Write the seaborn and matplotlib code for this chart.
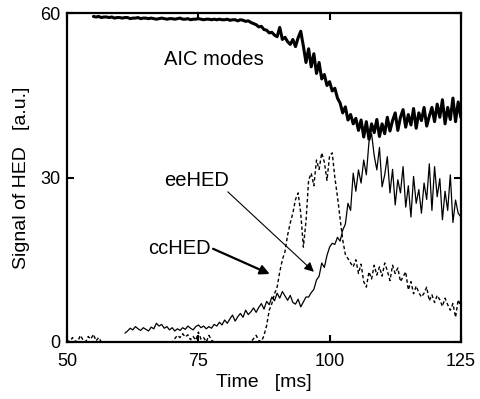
import numpy as np
import pandas as pd
import matplotlib
matplotlib.use("Agg")
import matplotlib.pyplot as plt
import seaborn as sns

# sampled every 0.5 ms
t_aic = np.arange(55.0, 125.01, 0.5)
aic = [
    59.4, 59.3, 59.4, 59.2, 59.3, 59.3, 59.2, 59.3, 59.1, 59.2,
    59.2, 59.1, 59.2, 59.2, 59.0, 59.1, 59.1, 59.2, 59.0, 59.1,
    59.1, 59.0, 59.1, 59.0, 58.9, 59.0, 59.1, 59.0, 58.9, 59.0,
    59.0, 58.9, 59.0, 59.1, 58.9, 58.9, 59.0, 58.8, 58.9, 58.9,
    59.0, 58.9, 58.8, 58.9, 58.9, 58.8, 58.9, 58.8, 58.9, 58.8,
    58.8, 58.9, 58.7, 58.8, 58.8, 58.6, 58.8, 58.7, 58.5, 58.6,
    58.3, 58.1, 57.9, 57.5, 57.6, 57.0, 56.9, 56.4, 56.5, 56.0,
    55.7, 57.4, 55.2, 55.6, 54.8, 54.3, 55.2, 53.9, 55.5, 56.7,
    54.0, 51.0, 53.5, 50.2, 52.6, 49.0, 51.0, 48.0, 48.8, 46.8,
    47.5, 45.8, 46.3, 44.5, 43.6, 41.8, 42.9, 40.5, 41.5, 39.8,
    40.8, 38.6, 40.5, 37.4, 40.2, 37.0, 39.8, 38.2, 40.6, 37.5,
    39.8, 38.0, 41.0, 38.5, 40.4, 41.8, 38.6, 41.0, 42.4, 39.2,
    41.5, 39.6, 42.6, 39.0, 41.8, 40.4, 42.8, 39.4, 41.2, 42.8,
    40.2, 43.4, 41.0, 44.2, 39.8, 42.8, 40.6, 44.5, 40.2, 43.8,
    41.0,
]

t_cc = np.arange(61.0, 125.01, 0.5)
cc_hed = [
    1.6, 2.0, 2.5, 2.2, 2.8, 2.4, 2.1, 2.6, 2.3, 2.0,
    2.7, 2.4, 3.4, 2.9, 3.2, 2.5, 2.8, 2.2, 2.6, 2.0,
    2.4, 2.1, 2.6, 2.3, 2.9, 2.5, 2.2, 2.8, 3.1, 2.6,
    2.9, 2.4, 2.8, 2.5, 3.2, 2.9, 3.6, 3.1, 4.0, 3.4,
    4.2, 4.9, 3.8, 4.6, 5.2, 4.5, 5.8, 5.0, 5.5, 6.2,
    5.4, 6.3, 7.0, 6.0, 7.4, 6.8, 8.2, 7.5, 8.9, 8.0,
    9.2, 8.4, 7.6, 8.5, 7.2, 6.9, 7.8, 6.4, 7.3, 8.2,
    8.2, 9.0, 9.6, 11.3, 12.0, 14.4, 13.6, 15.8, 17.3, 18.0,
    17.8, 19.1, 18.4, 20.4, 21.5, 25.3, 24.0, 30.8, 27.5, 31.4,
    29.0, 33.2, 30.5, 36.5, 38.0, 34.0, 31.4, 35.5, 28.3, 30.5,
    33.8, 27.2, 31.5, 25.0, 29.6, 27.2, 32.0, 24.6, 28.5, 22.8,
    30.2, 25.3, 27.8, 23.5, 29.0, 26.0, 32.5, 24.0, 32.0, 26.5,
    29.8, 22.3, 27.5, 24.0, 30.5, 21.8, 25.9, 23.5, 22.8,
]

t_ee = np.arange(50.0, 125.01, 0.5)
ee_hed = [
    0.3, 0.0, 0.8, 0.2, 0.0, 1.2, 0.4, 0.0, 1.0, 0.5,
    1.4, 0.2, 0.8, 0.0, 0.0, 0.0, 0.0, 0.0, 0.0, 0.0,
    0.0, 0.0, 0.0, 0.0, 0.0, 0.0, 0.0, 0.0, 0.0, 0.0,
    0.0, 0.0, 0.0, 0.0, 0.0, 0.0, 0.0, 0.0, 0.0, 0.0,
    0.0, 0.6, 1.2, 0.8, 1.5, 0.9, 1.3, 0.4, 1.0, 0.3,
    1.8, 0.5, 0.8, 0.0, 1.2, 0.3, 0.0, 0.0, 0.0, 0.0,
    0.0, 0.0, 0.0, 0.0, 0.0, 0.0, 0.0, 0.0, 0.0, 0.0,
    0.0, 0.6, 1.2, 0.3, 0.0, 1.2, 3.0, 5.8, 7.0, 8.8,
    10.0, 12.8, 15.0, 16.5, 19.5, 21.7, 23.5, 26.0, 27.2, 23.5,
    17.3, 22.0, 29.5, 30.8, 28.5, 33.2, 31.5, 34.5, 32.8, 29.5,
    34.0, 34.5, 30.0, 26.5, 22.5, 18.6, 16.0, 15.2, 14.4, 13.7,
    15.0, 12.5, 14.2, 11.0, 10.0, 12.8, 11.5, 14.0, 12.2, 13.7,
    12.0, 14.4, 13.0, 11.2, 14.0, 12.5, 13.5, 11.0, 11.9, 12.8,
    9.5, 11.0, 8.8, 10.2, 9.0, 8.2, 8.9, 10.0, 7.5, 8.6,
    7.2, 8.5, 7.7, 6.5, 8.0, 6.8, 5.8, 7.0, 4.5, 7.7,
    6.5,
]

x_ticks = [50, 75, 100, 125]
y_ticks = [0, 30, 60]

sns.set_style("ticks", {"text.color": "black", "axes.labelcolor": "black",
                        "xtick.color": "black", "ytick.color": "black",
                        "axes.edgecolor": "black"})
plt.rcParams["font.family"] = ["Liberation Sans", "DejaVu Sans"]

fig = plt.figure(figsize=(4.8, 3.99), dpi=100)
ax = fig.add_axes([0.14, 0.143, 0.82, 0.824])

sns.lineplot(x=t_aic, y=aic, color="black", linewidth=2.2, ax=ax)
sns.lineplot(x=t_cc, y=cc_hed, color="black", linewidth=0.9, ax=ax)
ee_line = sns.lineplot(x=t_ee, y=ee_hed, color="black", linewidth=1.0, ax=ax).lines[-1]
ee_line.set_dashes([2.5, 1.8])

ax.set_xlim(50, 125)
ax.set_ylim(0, 60)
ax.set_xticks(x_ticks)
ax.set_yticks(y_ticks)
ax.tick_params(direction="in", length=5, width=1.5, labelsize=13,
               top=True, right=True, color="black", labelcolor="black")
ax.tick_params(axis="x", pad=8)
ax.tick_params(axis="y", pad=5)
for s in ax.spines.values():
    s.set_linewidth(1.6)
    s.set_color("black")
    s.set_visible(True)

ax.set_xlabel("Time   [ms]", fontsize=14, labelpad=3, color="black")
ax.set_ylabel("Signal of HED   [a.u.]", fontsize=14, labelpad=7, color="black")

ax.text(78, 51.5, "AIC modes", fontsize=14.5, ha="center", va="center", color="black")
ax.text(74.6, 29.5, "eeHED", fontsize=14.5, ha="center", va="center", color="black")
ax.text(71.3, 17.1, "ccHED", fontsize=14.5, ha="center", va="center", color="black")
ax.annotate("", xy=(97.0, 12.8), xytext=(80.6, 27.4),
            arrowprops=dict(arrowstyle="-|>", color="black", lw=0.8,
                            shrinkA=0, shrinkB=0, mutation_scale=14))
ax.annotate("", xy=(88.6, 12.4), xytext=(77.8, 17.0),
            arrowprops=dict(arrowstyle="-|>", color="black", lw=1.6,
                            shrinkA=0, shrinkB=0, mutation_scale=14))

fig.savefig("out.png", dpi=100)
